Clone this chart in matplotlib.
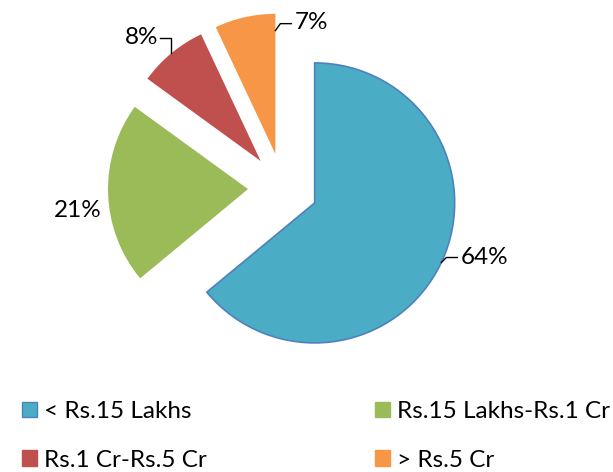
import numpy as np
import matplotlib
matplotlib.use("Agg")
import matplotlib.pyplot as plt
from matplotlib.patches import Patch

categories = ["< Rs.15 Lakhs", "Rs.15 Lakhs-Rs.1 Cr", "Rs.1 Cr-Rs.5 Cr", "> Rs.5 Cr"]
shares = [64, 21, 8, 7]
pct_labels = ["64%", "21%", "8%", "7%"]
colors = ["#4BACC6", "#9BBB59", "#C0504D", "#F79646"]

plt.rcParams["font.family"] = ["Lato", "DejaVu Sans"]

W, H = 613, 472
fig = plt.figure(figsize=(W / 100, H / 100), dpi=100)
ax = fig.add_axes([0, 0, 1, 1])

R = 140
wedges, _ = ax.pie(shares, colors=colors, startangle=90, counterclock=False,
                   explode=[35] * 4, radius=R, center=(283, 284), frame=True)
ax.set_xlim(0, W)
ax.set_ylim(0, H)
ax.set_aspect("equal")
ax.axis("off")
wedges[0].set_edgecolor("#4F81BD")
wedges[0].set_linewidth(1.2)


def arc_point(w, ang, frac=1.0):
    cx, cy = w.center
    a = np.deg2rad(ang)
    return cx + frac * w.r * np.cos(a), cy + frac * w.r * np.sin(a)


fs = 17.5
line_kw = dict(color="black", lw=1)

# 64% - blue, leader from arc midpoint going right
w = wedges[0]
x0, y0 = arc_point(w, (w.theta1 + w.theta2) / 2)
ax.plot([x0, x0 + 5, x0 + 16], [y0, y0 + 5, y0 + 5], **line_kw)
ax.text(x0 + 19, y0 + 5, pct_labels[0], fontsize=fs, va="center", ha="left")

# 21% - green, no leader
w = wedges[1]
x0, y0 = arc_point(w, (w.theta1 + w.theta2) / 2)
ax.text(x0 - 30, y0 - 17, pct_labels[1], fontsize=fs, va="center", ha="center")

# 8% - red, leader up then left
w = wedges[2]
x0, y0 = arc_point(w, (w.theta1 + w.theta2) / 2)
ax.plot([x0, x0, x0 - 11], [y0, y0 + 15, y0 + 15], **line_kw)
ax.text(x0 - 13, y0 + 16, pct_labels[2], fontsize=fs, va="center", ha="right")

# 7% - orange, leader from straight edge
w = wedges[3]
x0, y0 = arc_point(w, 90, 0.88)
ax.plot([x0, x0 + 5, x0 + 16], [y0, y0 + 7, y0 + 7], **line_kw)
ax.text(x0 + 19, y0 + 8, pct_labels[3], fontsize=fs, va="center", ha="left")

handles = [Patch(facecolor=c, edgecolor=("#4F81BD" if i == 0 else c))
           for i, c in enumerate(colors)]
order = [0, 2, 1, 3]
fig.legend([handles[i] for i in order], [categories[i] for i in order],
           ncol=2, loc="upper left", bbox_to_anchor=(22 / W, 1 - 401 / H),
           frameon=False, fontsize=fs, handlelength=0.62, handleheight=0.62,
           handletextpad=0.3, columnspacing=6.9, labelspacing=1.14,
           borderaxespad=0, borderpad=0)

fig.savefig("out.png", dpi=100)
